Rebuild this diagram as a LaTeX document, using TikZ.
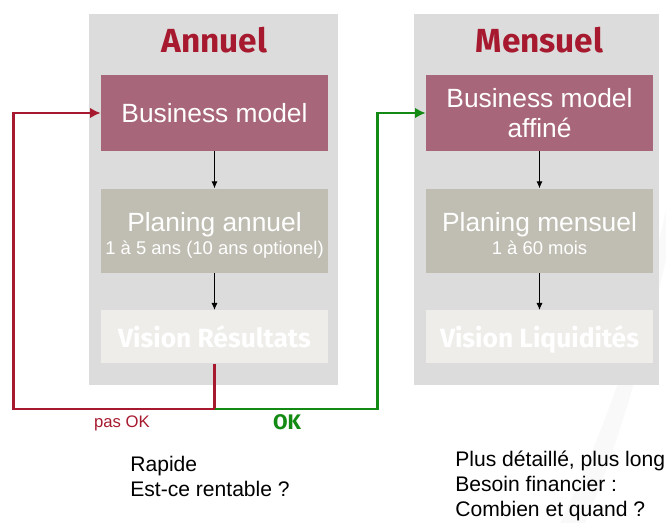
\documentclass[tikz,border=0pt]{standalone}
\usepackage{fontspec}
\setmainfont{Liberation Sans}
\newfontfamily\dinfont{Fira Sans}
\usetikzlibrary{arrows.meta,positioning}

\definecolor{panelgrey}{HTML}{DCDCDC}
\definecolor{bmrose}{HTML}{A8667A}
\definecolor{plantaupe}{HTML}{C0BEB2}
\definecolor{visionlight}{HTML}{EEEDEA}
\definecolor{titlered}{HTML}{A6192E}
\definecolor{okgreen}{HTML}{138A13}

\begin{document}
\begin{tikzpicture}[
  x=0.02cm, y=-0.02cm,
  panel/.style={fill=panelgrey, draw=none},
  box/.style={draw=none, minimum width=4.54cm, align=center, text=white, inner sep=2pt,
    font=\fontsize{15}{17}\selectfont},
  bmbox/.style={box, fill=bmrose, minimum height=1.52cm},
  planbox/.style={box, fill=plantaupe, minimum height=1.68cm,
    text height=28pt, text depth=1.4pt},
  visionbox/.style={box, fill=visionlight, minimum height=1.06cm,
    text height=13pt, text depth=0.5pt,
    font=\dinfont\bfseries\fontsize{15}{17}\selectfont},
  paneltitle/.style={text=titlered, font=\dinfont\bfseries\fontsize{19}{21}\selectfont},
  note/.style={align=left, anchor=north west, inner sep=0pt,
    font=\fontsize{12}{14.2}\selectfont},
  arr/.style={-{Latex[length=4pt,width=3.5pt]}, line width=0.6pt},
  redline/.style={-{Latex[length=6pt,width=6pt]}, line width=1.3pt, draw=titlered},
  greenline/.style={-{Latex[length=6pt,width=6pt]}, line width=1.3pt, draw=okgreen},
  node distance=0.74cm
]
\useasboundingbox (0,0) rectangle (666,523);

% faint background swoosh
\fill[gray!5] (666,210) .. controls (640,330) and (605,430) .. (560,523)
  -- (585,523) .. controls (625,430) and (652,320) .. (666,260) -- cycle;

% panels
\fill[panel] (89,14) rectangle (338,385);
\fill[panel] (414,14) rectangle (659,385);

\node[paneltitle] (ta) at (214.5,40) {Annuel};
\node[paneltitle] (tm) at (539.5,40) {Mensuel};

% left column
\node[bmbox] (bma) at (214.5,113) {Business model};
\node[planbox, below=of bma] (pla)
  {Planing annuel\\[-4pt]{\fontsize{10.5}{12}\selectfont 1 à 5 ans (10 ans optionel)}};
\node[visionbox, below=of pla] (vr) {Vision Résultats};

% right column
\node[bmbox] (bmm) at (539.5,113) {Business model\\affiné};
\node[planbox, below=of bmm] (plm)
  {Planing mensuel\\[-4pt]{\fontsize{10.5}{12}\selectfont 1 à 60 mois}};
\node[visionbox, below=of plm] (vl) {Vision Liquidités};

\draw[arr] (bma) -- (pla);
\draw[arr] (pla) -- (vr);
\draw[arr] (bmm) -- (plm);
\draw[arr] (plm) -- (vl);

% feedback loops
\draw[redline] (vr.south) -- ++(0,45) coordinate (split) -- ++(-201,0) |- (bma.west);
\draw[greenline] (split) -- ++(163,0) |- (bmm.west);

\node[text=titlered, font=\fontsize{9.5}{11}\selectfont] (nok) at (122,423) {pas OK};
\node[text=okgreen, font=\dinfont\bfseries\fontsize{12}{14}\selectfont] (ok) at (287,422) {OK};

% comments
\node[note] (na) at (130,456) {Rapide\\Est-ce rentable ?};
\node[note] (nm) at (455,451) {Plus détaillé, plus long\\Besoin financier :\\Combien et quand ?};

\end{tikzpicture}
\end{document}
